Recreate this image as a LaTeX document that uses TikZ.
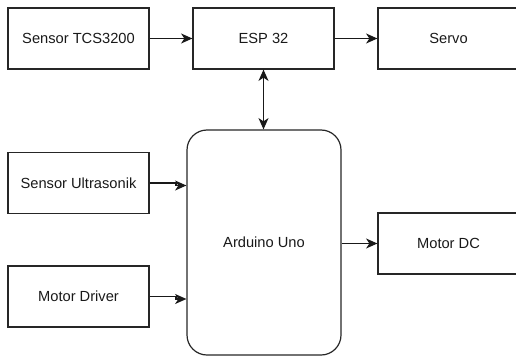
\documentclass[tikz,border=0pt]{standalone}
\usepackage{fontspec}
\setmainfont{Liberation Sans}
\usetikzlibrary{arrows.meta}
\begin{document}
\begin{tikzpicture}[x=0.75pt,y=-0.75pt,
  blk/.style={draw=black!85, line width=0.9pt, minimum width=105.75pt, minimum height=45.75pt, inner sep=0pt, font=\fontsize{11}{13}\selectfont, text=black!90},
  ard/.style={blk, rounded corners=15pt, minimum width=115.5pt, minimum height=168.75pt},
  tip/.tip={Stealth[length=8.5pt,width=7.5pt,inset=2.5pt]},
  conn/.style={line width=0.9pt, black!90, -tip},
  bicon/.style={line width=0.9pt, black!90, tip-tip}]
\useasboundingbox (0,0) rectangle (516,356);
\clip (0,0) rectangle (516,356);
\node[blk] (tcs) at (78.5,38.5) {Sensor TCS3200};
\node[blk] (esp) at (263.5,38.5) {ESP 32};
\node[blk] (servo) at (448.5,38.5) {Servo};
\node[blk] (us) at (78.5,183) {Sensor Ultrasonik};
\node[blk] (md) at (78.5,296.5) {Motor Driver};
\node[ard] (ard) at (264,242.5) {Arduino Uno};
\node[blk] (mdc) at (448.5,243.5) {Motor DC};
\draw[conn] (tcs.east) -- (esp.west);
\draw[conn] (esp.east) -- (servo.west);
\draw[bicon] (esp.south) -- (esp.south |- ard.north);
\draw[conn] (us.east) -- (176,183) -- (176,185.5) -- (ard.west |- 176,185.5);
\draw[conn] (md.east) -- (176,296.5) -- (176,299) -- (ard.west |- 176,299);
\draw[conn] (ard.east |- mdc.west) -- (mdc.west);
\end{tikzpicture}
\end{document}
